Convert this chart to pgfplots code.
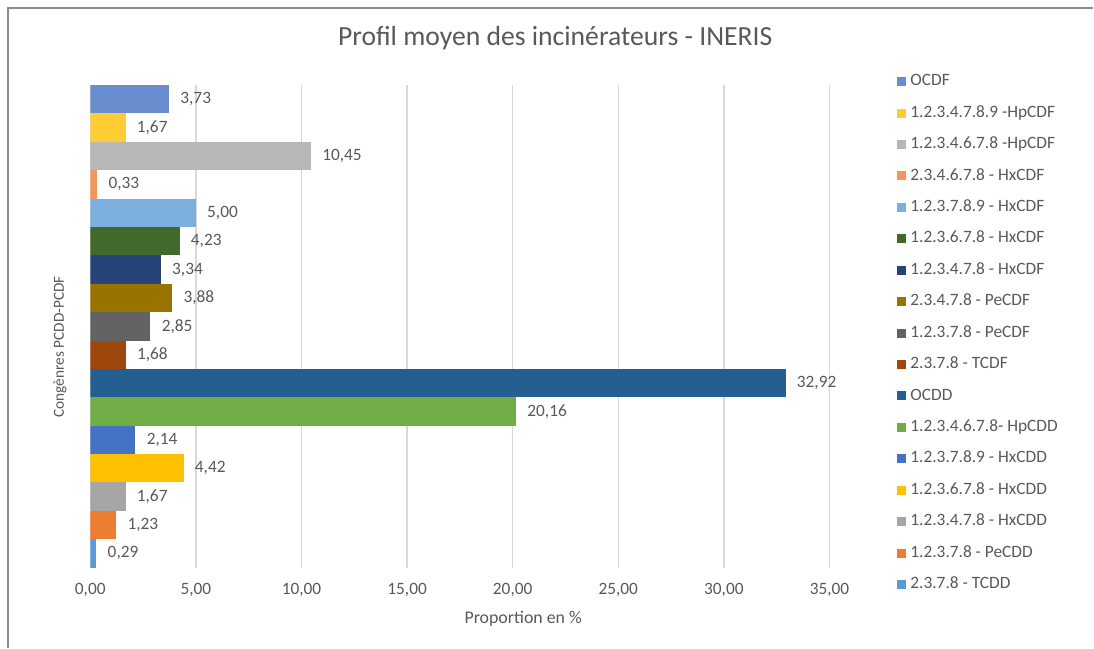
\documentclass[border=0pt]{standalone}
\usepackage{fontspec}
\setmainfont{Carlito}
\usepackage{pgfplots}
\pgfplotsset{compat=1.18}

\definecolor{txt}{HTML}{595959}
\definecolor{grd}{HTML}{D9D9D9}
\definecolor{frm}{HTML}{8C8C8C}
\definecolor{c01}{HTML}{5B9BD5}
\definecolor{c02}{HTML}{ED7D31}
\definecolor{c03}{HTML}{A5A5A5}
\definecolor{c04}{HTML}{FFC000}
\definecolor{c05}{HTML}{4472C4}
\definecolor{c06}{HTML}{70AD47}
\definecolor{c07}{HTML}{255E91}
\definecolor{c08}{HTML}{9E480E}
\definecolor{c09}{HTML}{636363}
\definecolor{c10}{HTML}{997300}
\definecolor{c11}{HTML}{264478}
\definecolor{c12}{HTML}{43682B}
\definecolor{c13}{HTML}{7CAFDD}
\definecolor{c14}{HTML}{F1975A}
\definecolor{c15}{HTML}{B7B7B7}
\definecolor{c16}{HTML}{FFCD33}
\definecolor{c17}{HTML}{698ED0}

% 1 px of the reference = 0.6pt

\begin{document}
\begin{tikzpicture}
% page size and frame
\path (0,0) rectangle (656.4pt,388.8pt);
\draw[frm, line width=0.8pt] (4.8pt,0) -- (4.8pt,384pt) -- (656.4pt,384pt);

\begin{axis}[
    at={(54.2pt,48pt)}, anchor=south west,
    scale only axis,
    width=443.8pt, height=289.8pt,
    xmin=0, xmax=35,
    ymin=0.5, ymax=17.5,
    xtick={0,5,...,35},
    ytick=\empty,
    axis line style={draw=none},
    major tick length=0pt,
    xmajorgrids,
    grid style={grd, line width=0.8pt},
    /pgf/number format/assume math mode=true,
    xticklabel style={font=\fontsize{10.4}{12}\selectfont, text=txt, yshift=-6pt,
        /pgf/number format/.cd, fixed, fixed zerofill, precision=2, use comma},
    every axis plot/.append style={xbar, bar width=1, bar shift=0pt, draw=none,
        point meta=x,
        nodes near coords={\pgfmathprintnumber[fixed, fixed zerofill, precision=2, use comma]{\pgfplotspointmeta}},
        every node near coord/.append style={font=\fontsize{10.4}{12}\selectfont, text=txt,
            anchor=west, inner sep=0pt, xshift=6.6pt}},
    reverse legend,
    legend cell align=left,
    legend image code/.code={\fill[#1] (0pt,-2.7pt) rectangle (5.4pt,2.7pt);},
    legend style={at={(1.0847,1.030)}, anchor=north west, draw=none, fill=none,
        font=\fontsize{10.4}{12}\selectfont, text=txt, row sep=9.87pt,
        nodes={inner xsep=2.4pt, inner ysep=0pt, text height=7pt, text depth=2pt}},
]
\addplot[fill=c01] coordinates {(0.29,1)};
\addlegendentry{2.3.7.8 - TCDD}
\addplot[fill=c02] coordinates {(1.23,2)};
\addlegendentry{1.2.3.7.8 - PeCDD}
\addplot[fill=c03] coordinates {(1.67,3)};
\addlegendentry{1.2.3.4.7.8 - HxCDD}
\addplot[fill=c04] coordinates {(4.42,4)};
\addlegendentry{1.2.3.6.7.8 - HxCDD}
\addplot[fill=c05] coordinates {(2.14,5)};
\addlegendentry{1.2.3.7.8.9 - HxCDD}
\addplot[fill=c06] coordinates {(20.16,6)};
\addlegendentry{1.2.3.4.6.7.8- HpCDD}
\addplot[fill=c07] coordinates {(32.92,7)};
\addlegendentry{OCDD}
\addplot[fill=c08] coordinates {(1.68,8)};
\addlegendentry{2.3.7.8 - TCDF}
\addplot[fill=c09] coordinates {(2.85,9)};
\addlegendentry{1.2.3.7.8 - PeCDF}
\addplot[fill=c10] coordinates {(3.88,10)};
\addlegendentry{2.3.4.7.8 - PeCDF}
\addplot[fill=c11] coordinates {(3.34,11)};
\addlegendentry{1.2.3.4.7.8 - HxCDF}
\addplot[fill=c12] coordinates {(4.23,12)};
\addlegendentry{1.2.3.6.7.8 - HxCDF}
\addplot[fill=c13] coordinates {(5.00,13)};
\addlegendentry{1.2.3.7.8.9 - HxCDF}
\addplot[fill=c14] coordinates {(0.33,14)};
\addlegendentry{2.3.4.6.7.8 - HxCDF}
\addplot[fill=c15] coordinates {(10.45,15)};
\addlegendentry{1.2.3.4.6.7.8 -HpCDF}
\addplot[fill=c16] coordinates {(1.67,16)};
\addlegendentry{1.2.3.4.7.8.9 -HpCDF}
\addplot[fill=c17] coordinates {(3.73,17)};
\addlegendentry{OCDF}
\end{axis}

% title and axis titles
\node[text=txt, font=\fontsize{16.6}{19}\selectfont] at (333.3pt,366pt) {Profil moyen des incinérateurs - INERIS};
\node[text=txt, font=\fontsize{10.7}{12}\selectfont] at (314.1pt,17.4pt) {Proportion en \%};
\node[text=txt, font=\fontsize{9.2}{11}\selectfont, rotate=90] at (36pt,180.6pt) {Congènres PCDD-PCDF};
\end{tikzpicture}
\end{document}
